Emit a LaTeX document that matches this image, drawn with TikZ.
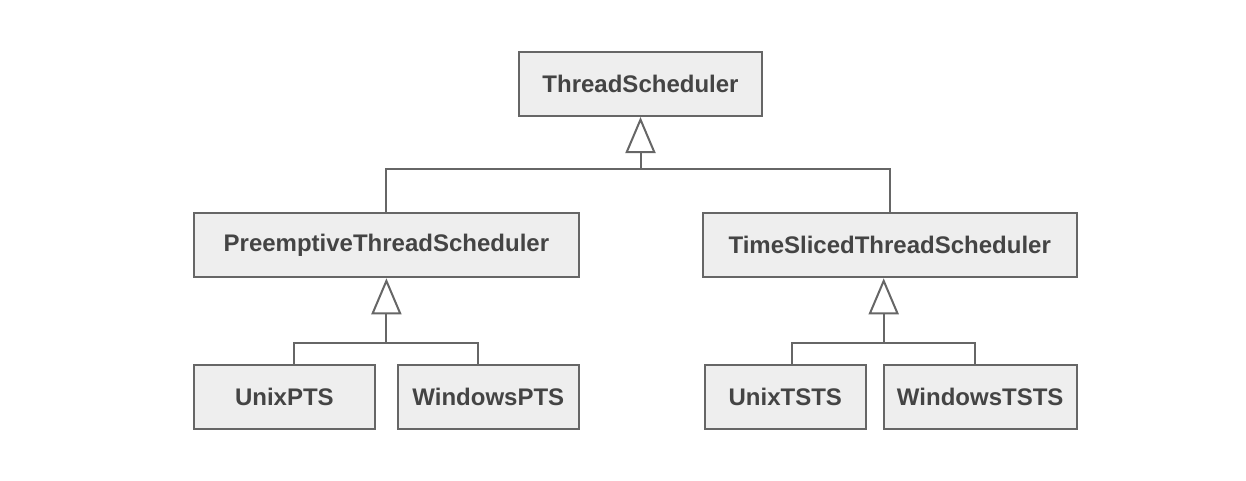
\documentclass[tikz,border=0pt]{standalone}
\usepackage{fontspec}
\setmainfont{Liberation Sans}
\usetikzlibrary{arrows.meta}
\definecolor{boxfill}{HTML}{EEEEEE}
\definecolor{boxline}{HTML}{666666}
\definecolor{txt}{HTML}{444444}
\begin{document}
\begin{tikzpicture}[x=1pt,y=-1pt,
  cls/.style={draw=boxline, fill=boxfill, line width=2pt, minimum height=64pt,
    inner sep=0pt, text=txt, font=\fontsize{24}{28}\selectfont\bfseries},
  conn/.style={draw=boxline, line width=2pt},
  inh/.style={conn, -{Triangle[open, length=36pt, width=30pt, line width=2pt]}}
]
\useasboundingbox (0,0) rectangle (1246,480);
\node[cls, minimum width=243pt] (ts) at (640.5,84) {ThreadScheduler};
\node[cls, minimum width=385pt] (pts) at (386.4,245.3) {PreemptiveThreadScheduler};
\node[cls, minimum width=374pt] (tsts) at (889.7,245.3) {TimeSlicedThreadScheduler};
\node[cls, minimum width=181pt] (upts) at (284.4,397.2) {UnixPTS};
\node[cls, minimum width=181pt] (wpts) at (488.3,397.2) {WindowsPTS};
\node[cls, minimum width=161pt] (utsts) at (785.3,397.2) {UnixTSTS};
\node[cls, minimum width=193pt] (wtsts) at (980.2,397.2) {WindowsTSTS};
% top level
\coordinate (j0) at (ts.south |- 0,169);
\draw[conn] (pts.north) |- (j0) -| (tsts.north);
\draw[inh] (j0) -- (ts.south);
% left subtree
\coordinate (j1) at (pts.south |- 0,343);
\draw[conn] ([xshift=10pt]upts.north) |- (j1) -| ([xshift=-10pt]wpts.north);
\draw[inh] (j1) -- (pts.south);
% right subtree
\coordinate (j2) at ([xshift=-6pt]tsts.south |- 0,343);
\draw[conn] ([xshift=6.4pt]utsts.north) |- (j2) -| ([xshift=-5.2pt]wtsts.north);
\draw[inh] (j2) -- (j2 |- tsts.south);
\end{tikzpicture}
\end{document}
